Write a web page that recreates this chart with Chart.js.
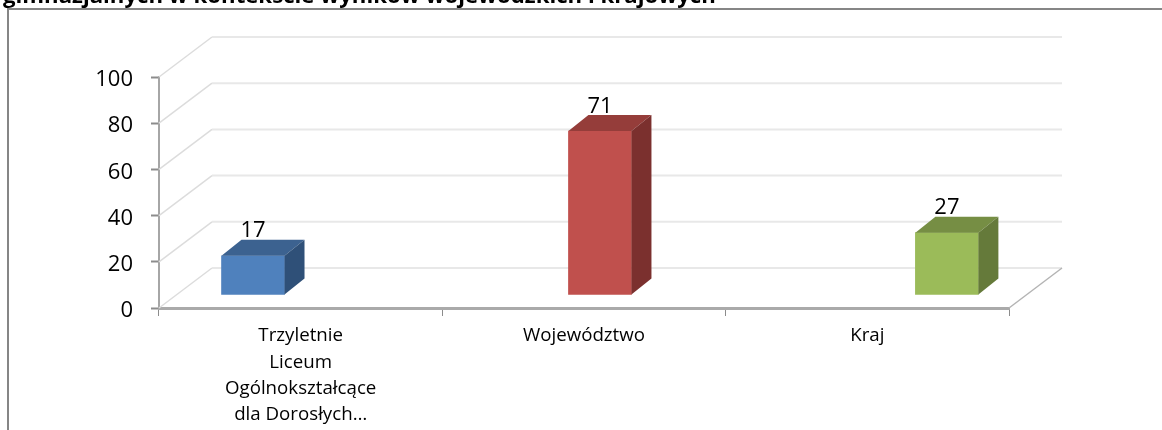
<!DOCTYPE html>
<html>
<head>
<meta charset="utf-8">
<style>
  html, body { margin: 0; padding: 0; background: #fff; overflow: hidden; }
  canvas { display: block; }
</style>
<script src="https://cdn.jsdelivr.net/npm/chart.js@4/dist/chart.umd.min.js"></script>
</head>
<body>
<canvas id="bar_chart" width="1162" height="430"></canvas>
<script>
const titleText = 'gimnazjalnych w kontekście wyników wojewódzkich i krajowych';
const categories = [['Trzyletnie', 'Liceum', 'Ogólnokształcące', 'dla Dorosłych…'], 'Województwo', 'Kraj'];
const values = [17, 71, 27];
const frontColors = ['#4f81bd', '#c0504d', '#9bbb59'];
const topColors = ['#3c6290', '#953d3a', '#768e44'];
const sideColors = ['#2f5078', '#7b302e', '#657a3a'];

// fake 3D: how far the back wall and the bars are pushed away from the front plane
const WALL_DX = 53, WALL_DY = -40;
const BAR_DX = 20, BAR_DY = -16, BAR_LIFT = -13;

const framePlugin = {
  id: 'frame',
  beforeDraw(chart) {
    const ctx = chart.ctx;
    ctx.save();
    ctx.strokeStyle = '#868686';
    ctx.lineWidth = 2;
    ctx.beginPath();
    ctx.moveTo(8, 430);
    ctx.lineTo(8, 9);
    ctx.lineTo(1162, 9);
    ctx.stroke();
    ctx.fillStyle = '#000';
    ctx.font = 'bold 22.2px "Open Sans"';
    ctx.textBaseline = 'alphabetic';
    ctx.fillText(titleText, 3, 3);
    ctx.restore();
  }
};

const wallPlugin = {
  id: 'wall',
  beforeDatasetsDraw(chart) {
    const ctx = chart.ctx, y = chart.scales.y, area = chart.chartArea;
    ctx.save();
    y.ticks.forEach(t => {
      const py = y.getPixelForValue(t.value);
      ctx.strokeStyle = '#dcdcdc';
      ctx.lineWidth = 1.5;
      ctx.beginPath();
      ctx.moveTo(area.left, py);
      ctx.lineTo(area.left + WALL_DX, py + WALL_DY);
      ctx.stroke();
      ctx.strokeStyle = '#e8e8e8';
      ctx.lineWidth = 2;
      ctx.beginPath();
      ctx.moveTo(area.left + WALL_DX, py + WALL_DY);
      ctx.lineTo(area.right + WALL_DX, py + WALL_DY);
      ctx.stroke();
    });
    // floor edge on the right
    ctx.strokeStyle = '#b4b4b4';
    ctx.lineWidth = 1.5;
    ctx.beginPath();
    ctx.moveTo(area.right, area.bottom);
    ctx.lineTo(area.right + WALL_DX, area.bottom + WALL_DY);
    ctx.stroke();
    ctx.restore();
  },
  // bars stand on the floor, a bit behind the axis
  beforeDatasetDraw(chart) {
    chart.ctx.save();
    chart.ctx.translate(0, BAR_LIFT);
  },
  afterDatasetDraw(chart, args) {
    const ctx = chart.ctx;
    args.meta.data.forEach((bar, i) => {
      const l = bar.x - bar.width / 2, r = bar.x + bar.width / 2;
      const t = bar.y, b = bar.base;
      ctx.fillStyle = topColors[i];
      ctx.beginPath();
      ctx.moveTo(l, t);
      ctx.lineTo(l + BAR_DX, t + BAR_DY);
      ctx.lineTo(r + BAR_DX, t + BAR_DY);
      ctx.lineTo(r, t);
      ctx.closePath();
      ctx.fill();
      ctx.fillStyle = sideColors[i];
      ctx.beginPath();
      ctx.moveTo(r, t);
      ctx.lineTo(r + BAR_DX, t + BAR_DY);
      ctx.lineTo(r + BAR_DX, b + BAR_DY);
      ctx.lineTo(r, b);
      ctx.closePath();
      ctx.fill();
      ctx.fillStyle = '#000';
      ctx.font = '22px "Open Sans"';
      ctx.textAlign = 'center';
      ctx.textBaseline = 'middle';
      ctx.fillText(String(values[i]), bar.x, t - 24.5);
    });
    ctx.restore();
  }
};

const config = {
  type: 'bar',
  data: {
    labels: categories,
    datasets: [{
      data: values.map((v, i) => ({ x: i, y: v })),
      xAxisID: 'xBar',
      backgroundColor: frontColors,
      barThickness: 63,
      borderWidth: 0
    }]
  },
  options: {
    responsive: false,
    animation: false,
    layout: { padding: { top: 77, right: 153 } },
    plugins: { legend: { display: false }, title: { display: false }, tooltip: { enabled: false } },
    scales: {
      x: {
        type: 'category',
        offset: true,
        afterFit: s => { s.height = 122; },
        grid: { offset: true, drawOnChartArea: false, color: '#8c8c8c', tickLength: 8, tickWidth: 1 },
        border: { display: true, color: '#aaaaaa', width: 3 },
        ticks: { autoSkip: false, maxRotation: 0, color: '#000', padding: 7, font: { family: 'Open Sans', size: 18.7, lineHeight: 1.4 } }
      },
      // the bars are spaced wider than the labels in the original, so they get their own hidden axis
      xBar: { type: 'linear', display: false, offset: false, min: -0.271, max: 2.179 },
      y: {
        min: 0,
        max: 100,
        afterFit: s => { s.width = 159; },
        grid: { drawOnChartArea: false, color: '#8c8c8c', tickLength: 8, tickWidth: 2 },
        border: { display: true, color: '#a6a6a6', width: 2 },
        ticks: { stepSize: 20, color: '#000', padding: 18, labelOffset: 3, font: { family: 'Open Sans', size: 22 } }
      }
    }
  },
  plugins: [framePlugin, wallPlugin]
};

const ctx = document.getElementById('bar_chart').getContext('2d');
var myChart = new Chart(ctx, config);
</script>
</body>
</html>
